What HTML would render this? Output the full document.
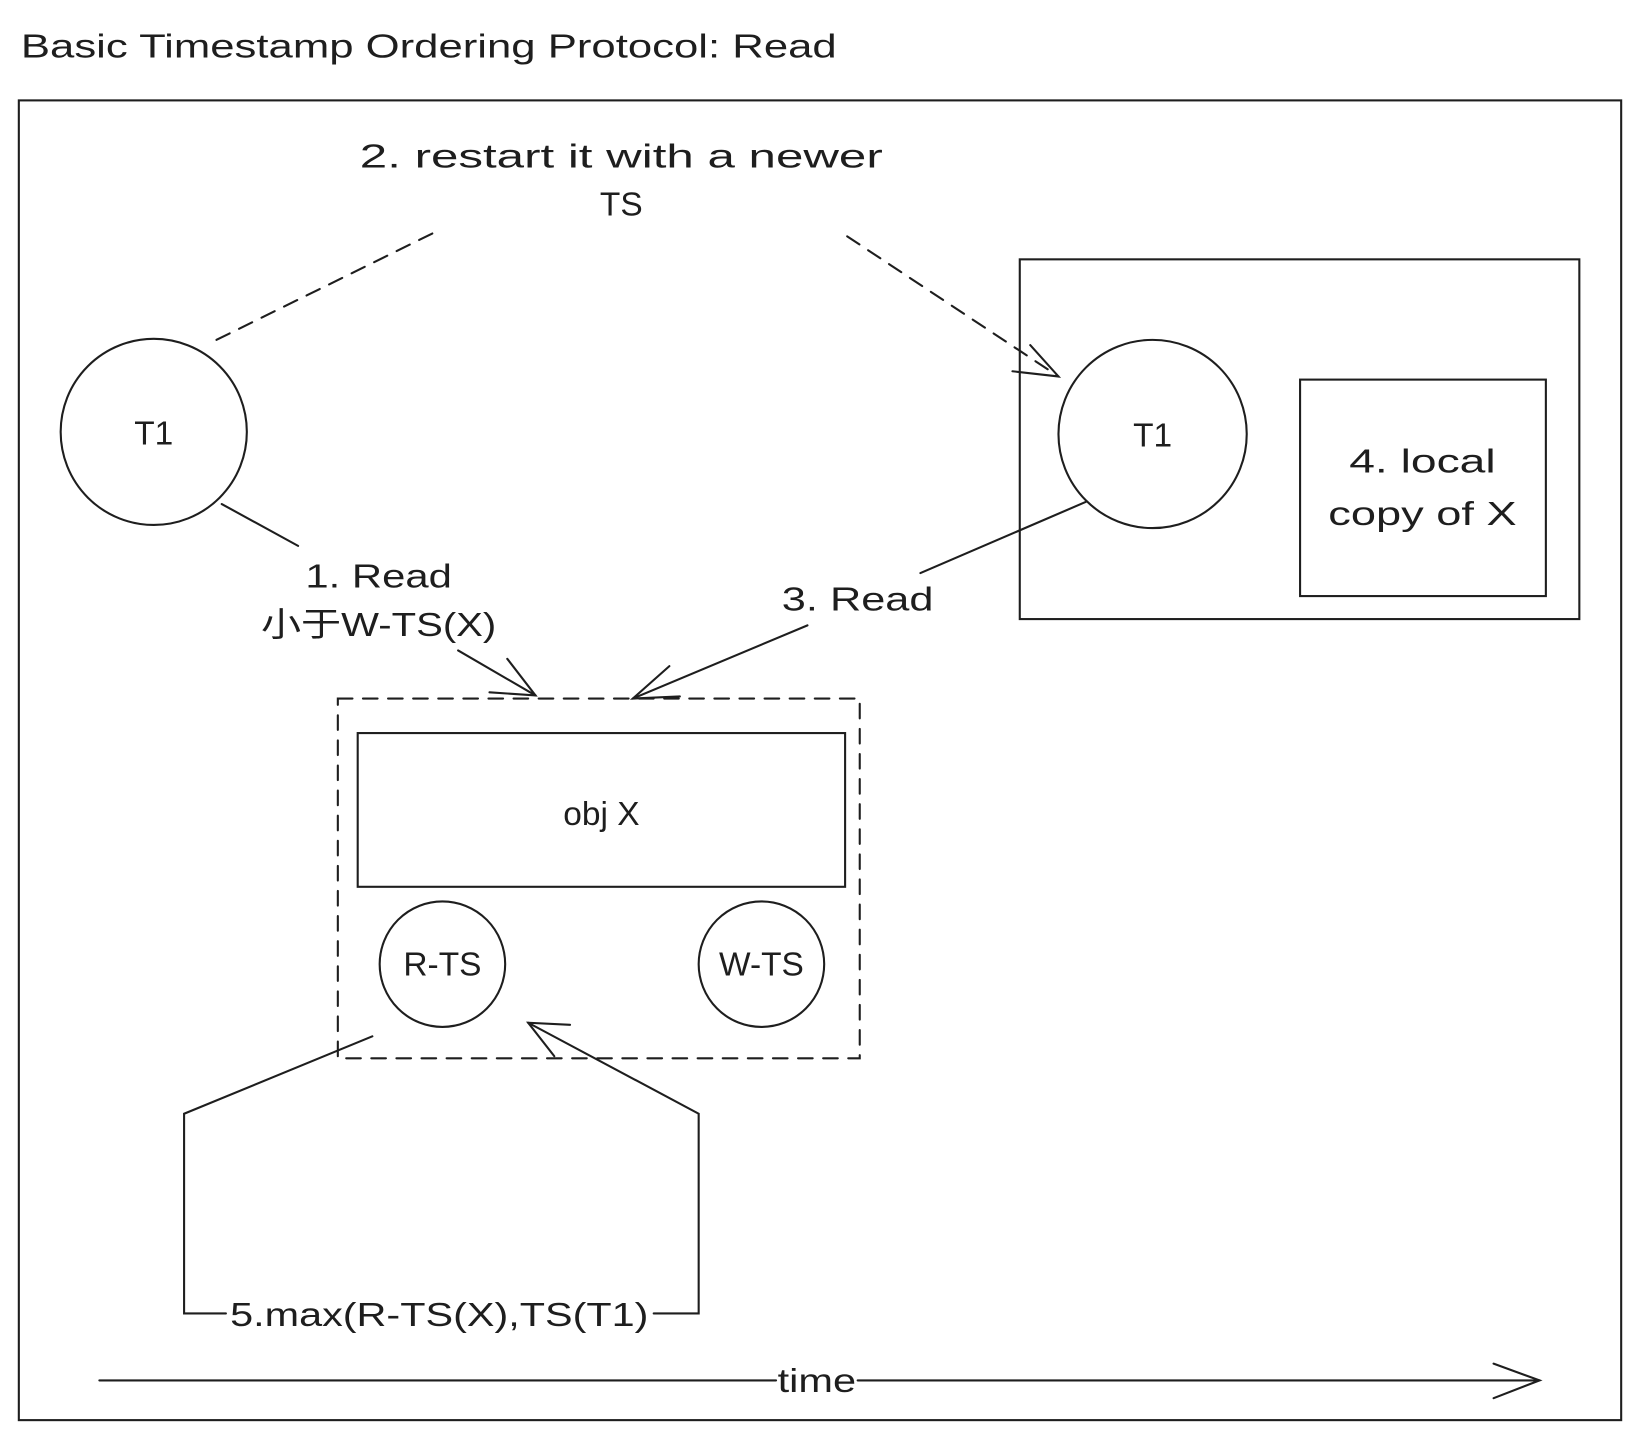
<!DOCTYPE html>
<html><head><meta charset="utf-8"><style>
html,body{margin:0;padding:0;background:#fff;}
svg{display:block;}
text{font-family:"Liberation Sans","Noto Sans CJK SC",sans-serif;fill:#1e1e1e;font-size:32px;}
</style></head><body>
<svg width="1640" height="1440" viewBox="0 0 1568 1377" preserveAspectRatio="none" xmlns="http://www.w3.org/2000/svg">
<g fill="none" stroke="#1e1e1e" stroke-width="2" stroke-linecap="round">
<rect x="18" y="96" width="1532" height="1262"/>
<circle cx="147" cy="413" r="89"/>
<line x1="207" y1="325" x2="420" y2="220" stroke-dasharray="14 10"/>
<line x1="810" y1="226" x2="1012" y2="360" stroke-dasharray="14 10"/>
<polyline points="985,330 1012,360 968,355"/>
<rect x="975" y="248" width="535" height="344"/>
<circle cx="1102" cy="415" r="90"/>
<rect x="1243" y="363" width="235" height="207"/>
<line x1="212" y1="482" x2="285" y2="522"/>
<line x1="438" y1="622" x2="512" y2="665"/>
<polyline points="485,630 512,665 468,662"/>
<line x1="1038" y1="480" x2="880" y2="548"/>
<line x1="772" y1="598" x2="605" y2="668"/>
<polyline points="640,637 605,668 650,666"/>
<rect x="323" y="668" width="499" height="344" stroke-dasharray="14 10"/>
<rect x="342" y="701" width="466" height="147"/>
<circle cx="423" cy="922" r="60"/>
<circle cx="728" cy="922" r="60"/>
<polyline points="356,991 176,1065 176,1256 216,1256"/>
<polyline points="625,1256 668,1256 668,1065 505,978"/>
<polyline points="530,1010 505,978 545,980"/>
<line x1="95" y1="1320" x2="742" y2="1320"/>
<line x1="820" y1="1320" x2="1472" y2="1320"/>
<polyline points="1428,1304 1472,1320 1428,1337"/>
</g>
<text x="20" y="55" font-size="34" textLength="780" lengthAdjust="spacingAndGlyphs">Basic Timestamp Ordering Protocol: Read</text>
<g text-anchor="middle">
<text x="594" y="160" textLength="500" lengthAdjust="spacingAndGlyphs">2. restart it with a newer</text>
<text x="594" y="206">TS</text>
<text x="147" y="425">T1</text>
<text x="1102" y="427">T1</text>
<text x="1360" y="452" textLength="140" lengthAdjust="spacingAndGlyphs">4. local</text>
<text x="1360" y="502" textLength="180" lengthAdjust="spacingAndGlyphs">copy of X</text>
<text x="362" y="562" textLength="140" lengthAdjust="spacingAndGlyphs">1. Read</text>
<text x="362" y="608" textLength="225" lengthAdjust="spacingAndGlyphs">小于W-TS(X)</text>
<text x="820" y="584" textLength="145" lengthAdjust="spacingAndGlyphs">3. Read</text>
<text x="575" y="789">obj X</text>
<text x="423" y="933">R-TS</text>
<text x="728" y="933">W-TS</text>
<text x="420" y="1268" textLength="400" lengthAdjust="spacingAndGlyphs">5.max(R-TS(X),TS(T1)</text>
<text x="781" y="1331" textLength="75" lengthAdjust="spacingAndGlyphs">time</text>
</g>
</svg>
</body></html>
